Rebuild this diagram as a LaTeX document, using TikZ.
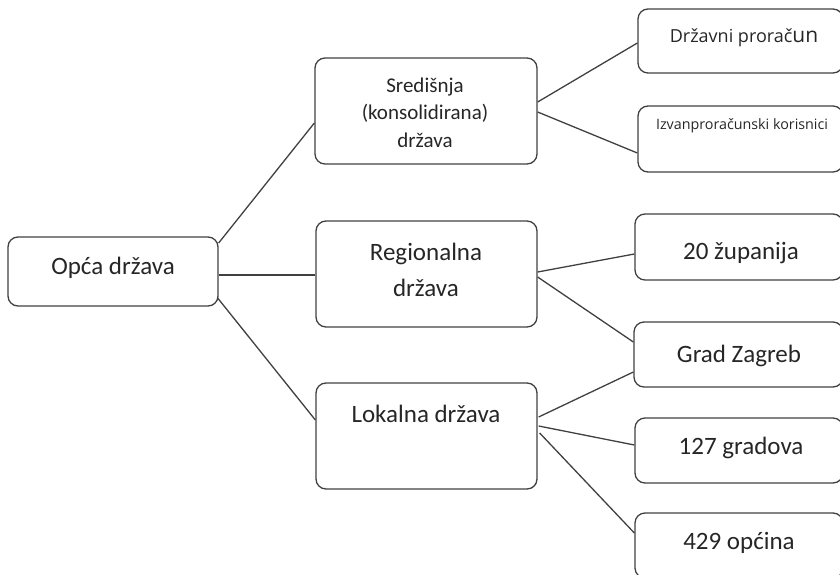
\documentclass[tikz,border=0pt]{standalone}
\usepackage{fontspec}
\setmainfont{Carlito}
\newfontfamily\osans{Open Sans}
\definecolor{boxgray}{HTML}{404040}
\definecolor{linegray}{HTML}{404040}
\definecolor{textgray}{HTML}{262626}
\begin{document}
\begin{tikzpicture}[x=1pt,y=-1pt,
  box/.style={draw=boxgray, line width=1.3pt, rounded corners=10pt, inner sep=0pt},
  conn/.style={draw=linegray, line width=1.3pt},
  txt/.style={text=textgray, inner sep=0pt, anchor=base},
  big/.style={font=\fontsize{25}{30}\selectfont},
  mid/.style={font=\fontsize{21}{26}\selectfont}]
\useasboundingbox (0,0) rectangle (840,575);
% boxes
\node[box, minimum width=210pt, minimum height=69pt]  (opca) at (113,271.5) {};
\node[box, minimum width=222pt, minimum height=106pt] (sred) at (426,111) {};
\node[box, minimum width=221pt, minimum height=106pt] (reg)  at (426.5,274) {};
\node[box, minimum width=221pt, minimum height=106pt] (lok)  at (426.5,436) {};
\node[box, minimum width=205pt, minimum height=64pt]  (drz)  at (740.5,41) {};
\node[box, minimum width=205pt, minimum height=66pt]  (izv)  at (740.5,139) {};
\node[box, minimum width=208pt, minimum height=66pt]  (zup)  at (739,247) {};
\node[box, minimum width=209pt, minimum height=65pt]  (zag)  at (738.5,354.5) {};
\node[box, minimum width=208pt, minimum height=65pt]  (gra)  at (739,450.5) {};
\node[box, minimum width=208pt, minimum height=65pt]  (opc)  at (739,545.5) {};
% texts
\node[txt, big] (topca) at (113,274) {Opća država};
\node[txt, mid] (tsred1) at (425,93) {Središnja};
\node[txt, mid] (tsred2) at (425,120) {(konsolidirana)};
\node[txt, mid] (tsred3) at (425,147) {država};
\node[txt, big] (treg1) at (426,260) {Regionalna};
\node[txt, big] (treg2) at (426,296) {država};
\node[txt, big] (tlok) at (426,422) {Lokalna država};
\node[txt] (tdrz) at (744,43) {\osans\fontsize{18}{22}\selectfont Državni prorač\fontsize{21}{24}\selectfont un};
\node[txt] (tizv) at (742,130) {\osans\fontsize{14.3}{17}\selectfont Izvanproračunski korisnici};
\node[txt, big] (tzup) at (741,259) {20 županija};
\node[txt, big] (tzag) at (739,362) {Grad Zagreb};
\node[txt, big] (tgra) at (741,454) {127 gradova};
\node[txt, big] (topc) at (739,549) {429 općina};
% connectors
\draw[conn] ([yshift=28.5pt]opca.east) -- ([yshift=-12pt]sred.west);
\draw[conn] ([yshift=-3.5pt]opca.east) -- ([yshift=-1pt]reg.west);
\draw[conn] ([xshift=-1pt,yshift=-26.5pt]opca.east) -- ([yshift=16pt]lok.west);
\draw[conn] ([yshift=9pt]sred.east) -- ([yshift=-2pt]drz.west);
\draw[conn] ([yshift=-1pt]sred.east) -- ([yshift=-14pt]izv.west);
\draw[conn] ([yshift=2pt]reg.east) -- ([yshift=-7pt]zup.west);
\draw[conn] ([yshift=-3pt]reg.east) -- ([yshift=12.5pt]zag.west);
\draw[conn] ([xshift=1pt,yshift=19pt]lok.east) -- ([yshift=-17.5pt]zag.west);
\draw[conn] ([xshift=1pt,yshift=10pt]lok.east) -- ([yshift=5.5pt]gra.west);
\draw[conn] ([xshift=2pt,yshift=3pt]lok.east) -- ([yshift=12.5pt]opc.west);
\end{tikzpicture}
\end{document}
